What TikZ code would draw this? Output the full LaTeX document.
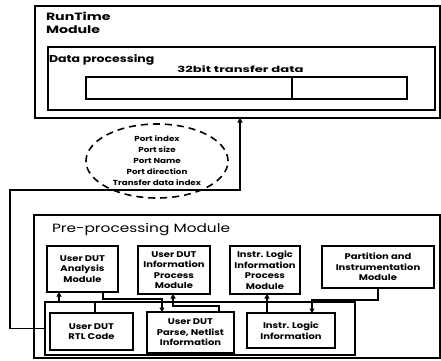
\documentclass[tikz,border=0pt]{standalone}
\usepackage{fontspec}
\setmainfont{Poppins}
\newfontfamily\wbox{Poppins}[FakeStretch=1.2]
\newfontfamily\wrt{Poppins}[FakeStretch=1.35]
\newfontfamily\wdp{Poppins}[FakeStretch=1.25]
\newfontfamily\wpp{Poppins}[FakeStretch=1.28]
\newfontfamily\wtd{Poppins}[FakeStretch=1.55]
\usetikzlibrary{shapes.geometric,arrows.meta}
\begin{document}
\begin{tikzpicture}[x=1pt,y=-1pt,
  bx/.style={draw, line width=1.6pt, rectangle, inner sep=0pt, outer sep=0pt, align=center,
    font=\wbox\bfseries\fontsize{8.3}{10.5}\selectfont},
  bb/.style={bx, line width=2.6pt},
  frame/.style={draw, line width=1.4pt, rectangle, inner sep=0pt, outer sep=0pt},
  arr/.style={line width=1.6pt, -{Triangle[length=4.5pt,width=5pt]}},
  lbl/.style={inner sep=0pt, outer sep=0pt},
]
\useasboundingbox[fill=white] (0,0) rectangle (441,360);
% RunTime module
\node[frame, minimum width=405pt, minimum height=112pt] (rt) at (237.5,62) {};
\node[lbl, anchor=north west, align=left, font=\wrt\bfseries\fontsize{10.5}{13}\selectfont] (rtl) at (46,12) {RunTime\\Module};
\node[frame, minimum width=387pt, minimum height=63pt] (dp) at (241.5,78.5) {};
\node[lbl, anchor=west, font=\wdp\bfseries\fontsize{10}{12}\selectfont] (dpl) at (49,60) {Data processing};
\node[lbl, font=\wtd\bfseries\fontsize{8.5}{10}\selectfont] (tdl) at (240.5,69) {32bit transfer data};
\node[frame, line width=2.2pt, minimum width=206pt, minimum height=22pt] (barl) at (189,88) {};
\node[frame, line width=2.2pt, minimum width=115pt, minimum height=22pt] (barr) at (349.5,88) {};
% info ellipse
\node[draw, ellipse, line width=1.6pt, dash pattern=on 7pt off 5pt, minimum width=142pt, minimum height=74pt,
  inner sep=0pt, align=center, font=\wbox\bfseries\fontsize{7.3}{11}\selectfont] (info) at (157,161)
  {Port index\\Port size\\Port Name\\Port direction\\Transfer data index};
% Pre-processing module
\node[frame, minimum width=406pt, minimum height=143pt] (pp) at (237,286.5) {};
\node[lbl, anchor=west, font=\wpp\fontsize{12}{14}\selectfont] (ppl) at (52,230) {Pre-processing Module};
\node[bx, minimum width=71pt, minimum height=46pt] (m1) at (82.5,269) {User DUT\\Analysis\\Module};
\node[bx, minimum width=72pt, minimum height=48pt] (m2) at (174,270) {User DUT\\Information\\Process\\Module};
\node[bx, minimum width=70pt, minimum height=48pt] (m3) at (265,270) {Instr. Logic\\Information\\Process\\Module};
\node[bx, minimum width=112pt, minimum height=42pt] (m4) at (378,267) {Partition and\\Instrumentation\\Module};
\node[frame, minimum width=310pt, minimum height=53pt] (inner) at (200,328.5) {};
\node[bb, minimum width=83pt, minimum height=37pt] (b1) at (91.5,331.5) {User DUT\\RTL Code};
\node[bb, minimum width=87pt, minimum height=41pt] (b2) at (190.5,332.5) {User DUT\\Parse, Netlist\\Information};
\node[bb, minimum width=88pt, minimum height=35pt] (b3) at (291,330.5) {Instr. Logic\\Information};
% connectors
\draw[arr] (b1.north -| 95,0) |- (59,302) -- (m1.south -| 59,0);
\draw[arr] (m1.south -| 103,0) |- (162,299) -- (b2.north -| 162,0);
\draw[arr] (b2.north -| 219,0) |- (173,306) -- (m2.south -| 173,0);
\draw[arr] (b3.north -| 267,0) -- (m3.south -| 267,0);
\draw[arr] (m4.south -| 378,0) |- (312,300) -- (b3.north -| 312,0);
\draw[arr] (inner.west) -- (10,328.5) |- (240,190) -- (rt.south -| 240,0);
\end{tikzpicture}
\end{document}
